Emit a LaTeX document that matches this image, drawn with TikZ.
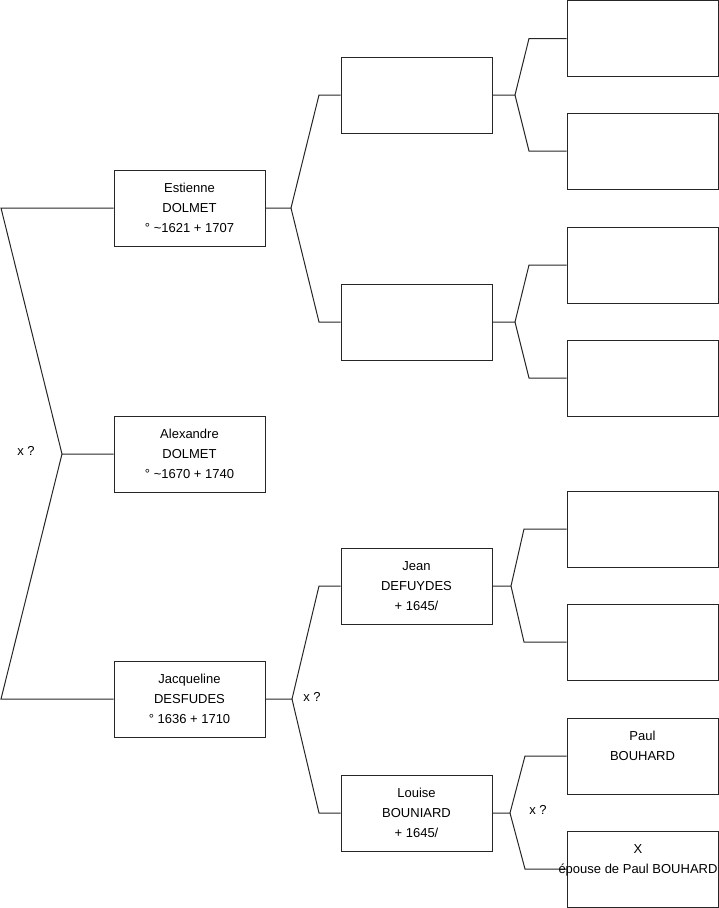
\documentclass[tikz,border=0pt]{standalone}
\usepackage{fontspec}
\setmainfont{Liberation Sans}
\begin{document}
\begin{tikzpicture}[x=1pt,y=-1pt,
  line width=1pt,
  pbox/.style={draw=black!85, fill=white, minimum width=151pt, minimum height=76pt, inner sep=0pt},
  ptext/.style={align=center, inner sep=0pt, font=\fontsize{13}{20}\selectfont},
  conn/.style={draw=black!85, line join=miter}
]
\useasboundingbox (0,0) rectangle (719,908);
% generation 1
\node[pbox] (alex) at (189.5,454) {};
\node[pbox] (est)  at (189.5,208) {};
\node[pbox] (jac)  at (189.5,699) {};
% generation 3
\node[pbox] (ga) at (416.5,95) {};
\node[pbox] (gb) at (416.5,322) {};
\node[pbox] (jean) at (416.5,586) {};
\node[pbox] (lou) at (416.5,813) {};
% generation 4
\node[pbox] (h1) at (642.5,38.5) {};
\node[pbox] (h2) at (642.5,151) {};
\node[pbox] (h3) at (642.5,265) {};
\node[pbox] (h4) at (642.5,378) {};
\node[pbox] (h5) at (642.5,529) {};
\node[pbox] (h6) at (642.5,642) {};
\node[pbox] (paul) at (642.5,756) {};
\node[pbox] (xep) at (642.5,869) {};
% texts
\node[ptext] at (est.center) {Estienne\\DOLMET\\° \textasciitilde1621 + 1707};
\node[ptext] at (alex.center) {Alexandre\\DOLMET\\° \textasciitilde1670 + 1740};
\node[ptext] at (jac.center) {Jacqueline\\DESFUDES\\° 1636 + 1710};
\node[ptext] at (jean.center) {Jean\\DEFUYDES\\+ 1645/};
\node[ptext] at (lou.center) {Louise\\BOUNIARD\\+ 1645/};
\node[ptext] at (paul.center) {Paul\\BOUHARD\\\mbox{}};
% coordinates of the brackets
\coordinate (l0) at (62,454);
\coordinate (l1) at (1,208);
\coordinate (l2) at (1,699);
\coordinate (e0) at (291,208);
\coordinate (e1) at (319,95);
\coordinate (e2) at (319,322);
\coordinate (j0) at (292,699);
\coordinate (j1) at (319,586);
\coordinate (j2) at (319,813);
\coordinate (a0) at (515,95);
\coordinate (a1) at (529,38.5);
\coordinate (a2) at (529,151);
\coordinate (b0) at (515,322);
\coordinate (b1) at (529,265);
\coordinate (b2) at (529,378);
\coordinate (n0) at (511,586);
\coordinate (n1) at (524,529);
\coordinate (n2) at (524,642);
\coordinate (o0) at (510,813);
\coordinate (o1) at (525,756);
\coordinate (o2) at (525,869);
% connectors
\draw[conn] (est.west) -- (l1) -- (l0) -- (alex.west);
\draw[conn] (l0) -- (l2) -- (jac.west);
\draw[conn] (est.east) -- (e0) -- (e1) -- (ga.west);
\draw[conn] (e0) -- (e2) -- (gb.west);
\draw[conn] (jac.east) -- (j0) -- (j1) -- (jean.west);
\draw[conn] (j0) -- (j2) -- (lou.west);
\draw[conn] (ga.east) -- (a0) -- (a1) -- (h1.west);
\draw[conn] (a0) -- (a2) -- (h2.west);
\draw[conn] (gb.east) -- (b0) -- (b1) -- (h3.west);
\draw[conn] (b0) -- (b2) -- (h4.west);
\draw[conn] (jean.east) -- (n0) -- (n1) -- (h5.west);
\draw[conn] (n0) -- (n2) -- (h6.west);
\draw[conn] (lou.east) -- (o0) -- (o1) -- (paul.west);
\draw[conn] (o0) -- (o2) -- (xep.west);
% text overflowing the last box
\node[ptext] at ([xshift=-4.5pt]xep.center) {X\\épouse de Paul BOUHARD\\\mbox{}};
% marriage labels
\node[ptext] (m1) at (26,451) {x ?};
\node[ptext] (m2) at (312,697) {x ?};
\node[ptext] (m3) at (538,810) {x ?};
\end{tikzpicture}
\end{document}
